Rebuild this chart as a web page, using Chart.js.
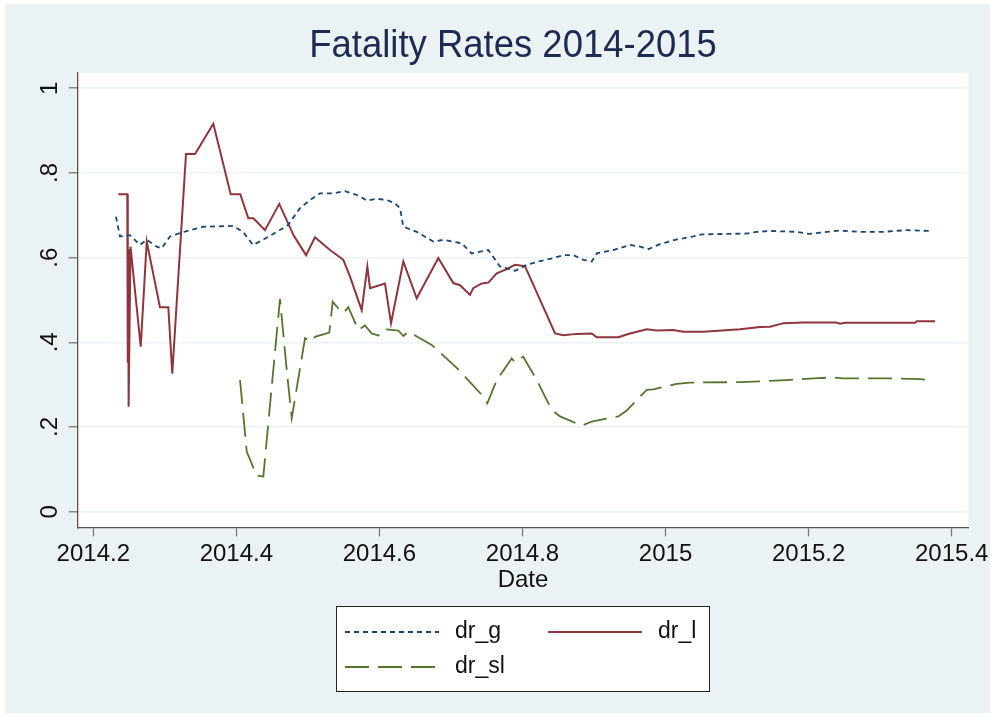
<!DOCTYPE html>
<html lang="en">
  <head>
    <meta charset="UTF-8" />
    <title>Fatality Rates 2014-2015</title>
    <script src="https://cdn.jsdelivr.net/npm/chart.js"></script>
    <style>
      body {
        margin: 0;
        padding: 0;
        background: #fff;
      }
      #chart {
        display: block;
      }
    </style>
  </head>
  <body>
    <canvas id="chart" width="994" height="717"></canvas>

    <script>
      // values
      const gDates = [
        2014.2317, 2014.2373, 2014.2513, 2014.2653, 2014.2747, 2014.2886, 2014.2956, 2014.3072,
        2014.3212, 2014.3352, 2014.3534, 2014.3953, 2014.4093, 2014.4233, 2014.4372, 2014.4568,
        2014.4722, 2014.489, 2014.5029, 2014.5169, 2014.5351, 2014.5519, 2014.5687, 2014.5826,
        2014.5966, 2014.6106, 2014.6218, 2014.6288, 2014.6334, 2014.6521, 2014.6753, 2014.6893,
        2014.715, 2014.729, 2014.7406, 2014.7522, 2014.7686, 2014.7895, 2014.8059, 2014.8245,
        2014.8431, 2014.8571, 2014.8711, 2014.885, 2014.8968, 2014.9038, 2014.927, 2014.9503,
        2014.9643, 2014.9759, 2014.9923, 2015.0156, 2015.0388, 2015.0506, 2015.1135, 2015.1274,
        2015.146, 2015.1834, 2015.1996, 2015.2159, 2015.2439, 2015.2719, 2015.3044, 2015.3371,
        2015.3697
      ];
      const gRates = [
        0.697, 0.65, 0.653, 0.63, 0.642, 0.626, 0.622, 0.65,
        0.658, 0.665, 0.673, 0.675, 0.661, 0.63, 0.642, 0.661,
        0.677, 0.717, 0.736, 0.752, 0.752, 0.757, 0.748, 0.735,
        0.739, 0.736, 0.728, 0.717, 0.673, 0.661, 0.638, 0.642,
        0.634, 0.61, 0.614, 0.618, 0.579, 0.569, 0.583, 0.592,
        0.599, 0.606, 0.606, 0.595, 0.591, 0.61, 0.618, 0.63,
        0.626, 0.62, 0.632, 0.643, 0.65, 0.655, 0.657, 0.661,
        0.663, 0.661, 0.656, 0.659, 0.664, 0.661, 0.661, 0.665,
        0.663
      ];

      const lDates = [
        2014.235, 2014.2475, 2014.2482, 2014.2488, 2014.2494, 2014.252, 2014.2663, 2014.2747,
        2014.2932, 2014.3049, 2014.3104, 2014.3296, 2014.3422, 2014.3678, 2014.3921, 2014.4055,
        2014.4167, 2014.4237, 2014.44, 2014.46, 2014.4796, 2014.4974, 2014.5099, 2014.5309,
        2014.5495, 2014.5589, 2014.5752, 2014.5831, 2014.5868, 2014.6078, 2014.6162, 2014.6334,
        2014.6521, 2014.6823, 2014.7033, 2014.7127, 2014.7266, 2014.7312, 2014.743, 2014.7522,
        2014.764, 2014.7779, 2014.7895, 2014.8035, 2014.8455, 2014.8571, 2014.8758, 2014.8968,
        2014.9038, 2014.934, 2014.9503, 2014.9737, 2014.9876, 2015.0108, 2015.0248, 2015.0528,
        2015.0785, 2015.1041, 2015.1321, 2015.146, 2015.16, 2015.1646, 2015.1926, 2015.2383,
        2015.2439, 2015.2509, 2015.3488, 2015.3511, 2015.3767
      ];
      const lRates = [
        0.75, 0.75, 0.352, 0.62, 0.248, 0.626, 0.39, 0.638,
        0.483, 0.483, 0.326, 0.845, 0.845, 0.916, 0.75, 0.75,
        0.693, 0.693, 0.665, 0.727, 0.654, 0.606, 0.648, 0.618,
        0.595, 0.555, 0.476, 0.579, 0.528, 0.539, 0.445, 0.591,
        0.504, 0.599, 0.54, 0.535, 0.512, 0.528, 0.539, 0.541,
        0.563, 0.573, 0.583, 0.58, 0.421, 0.417, 0.42, 0.421,
        0.412, 0.412, 0.421, 0.431, 0.428, 0.429, 0.425, 0.425,
        0.428, 0.431, 0.436, 0.437, 0.443, 0.445, 0.447, 0.447,
        0.444, 0.446, 0.446, 0.45, 0.45
      ];

      const slDates = [
        2014.4051, 2014.4145, 2014.4284, 2014.4377, 2014.447, 2014.461, 2014.4704, 2014.4774,
        2014.496, 2014.5053, 2014.5099, 2014.5299, 2014.5347, 2014.5425, 2014.5495, 2014.5565,
        2014.5705, 2014.5798, 2014.5892, 2014.5984, 2014.6078, 2014.6264, 2014.6334, 2014.6404,
        2014.6731, 2014.7103, 2014.743, 2014.7508, 2014.764, 2014.7849, 2014.7895, 2014.8011,
        2014.8199, 2014.8409, 2014.8525, 2014.8828, 2014.8968, 2014.9084, 2014.934, 2014.9457,
        2014.9737, 2014.9829, 2015.0156, 2015.0342, 2015.1041, 2015.16, 2015.1694, 2015.2066,
        2015.2323, 2015.2485, 2015.3208, 2015.3557, 2015.3707
      ];
      const slRates = [
        0.311, 0.142, 0.085, 0.083, 0.252, 0.502, 0.335, 0.221,
        0.41, 0.402, 0.413, 0.423, 0.496, 0.48, 0.469, 0.483,
        0.429, 0.44, 0.421, 0.416, 0.431, 0.428, 0.415, 0.425,
        0.394, 0.336, 0.276, 0.256, 0.311, 0.362, 0.353, 0.366,
        0.311, 0.24, 0.225, 0.203, 0.213, 0.217, 0.225, 0.239,
        0.288, 0.289, 0.302, 0.305, 0.306, 0.31, 0.311, 0.315,
        0.317, 0.315, 0.315, 0.313, 0.311
      ];

      const seriesNames = ["dr_g", "dr_l", "dr_sl"];
      const xTicks = [2014.2, 2014.4, 2014.6, 2014.8, 2015, 2015.2, 2015.4];
      const xTickLabels = ["2014.2", "2014.4", "2014.6", "2014.8", "2015", "2015.2", "2015.4"];
      const yTicks = [0, 0.2, 0.4, 0.6, 0.8, 1];
      const yTickLabels = ["0", ".2", ".4", ".6", ".8", "1"];

      const FONT = "'Liberation Sans', Arial, sans-serif";
      const BG = "#eaf2f3";
      const colors = ["#1a476f", "#90353b", "#55752f"];
      const dashes = [[5, 4], [], [24, 9]];

      function toPoints(xs, ys) {
        return xs.map((x, i) => ({ x: x, y: ys[i] }));
      }

      const backgroundPlugin = {
        id: "stataBackground",
        beforeDraw(chart) {
          const { ctx, chartArea } = chart;
          ctx.save();
          ctx.fillStyle = "#fff";
          ctx.fillRect(0, 0, chart.width, chart.height);
          ctx.fillStyle = BG;
          ctx.fillRect(5, 4, 985, 709);
          ctx.fillStyle = "#fff";
          ctx.fillRect(
            chartArea.left,
            chartArea.top,
            chartArea.right - chartArea.left,
            chartArea.bottom - chartArea.top
          );
          ctx.restore();
        },
        afterDraw(chart) {
          const ctx = chart.ctx;
          ctx.save();
          // title, slightly condensed like the original
          ctx.fillStyle = "#1e2a52";
          ctx.font = "38px " + FONT;
          ctx.textAlign = "center";
          ctx.textBaseline = "middle";
          ctx.translate(513, 47);
          ctx.scale(0.96, 1);
          ctx.fillText("Fatality Rates 2014-2015", 0, 0);
          ctx.setTransform(1, 0, 0, 1, 0, 0);

          // legend box
          ctx.fillStyle = "#fff";
          ctx.fillRect(336, 606, 374, 86);
          ctx.strokeStyle = "#222";
          ctx.lineWidth = 1;
          ctx.strokeRect(336.5, 606.5, 373, 85);

          const items = [
            { x: 345, y: 632 },
            { x: 548, y: 632 },
            { x: 345, y: 667 },
          ];
          ctx.font = "23px " + FONT;
          ctx.textAlign = "left";
          items.forEach((it, i) => {
            ctx.strokeStyle = colors[i];
            ctx.lineWidth = 2;
            ctx.setLineDash(dashes[i]);
            ctx.beginPath();
            ctx.moveTo(it.x, it.y);
            ctx.lineTo(it.x + 94, it.y);
            ctx.stroke();
            ctx.setLineDash([]);
            ctx.fillStyle = "#111";
            ctx.fillText(seriesNames[i], it.x + 110, it.y);
          });
          ctx.restore();
        },
      };

      const ctx = document.getElementById("chart").getContext("2d");
      new Chart(ctx, {
        type: "line",
        data: {
          datasets: [
            {
              label: seriesNames[0],
              data: toPoints(gDates, gRates),
              borderColor: colors[0],
              borderDash: dashes[0],
              borderWidth: 1.8,
            },
            {
              label: seriesNames[1],
              data: toPoints(lDates, lRates),
              borderColor: colors[1],
              borderDash: dashes[1],
              borderWidth: 2,
            },
            {
              label: seriesNames[2],
              data: toPoints(slDates, slRates),
              borderColor: colors[2],
              borderDash: dashes[2],
              borderWidth: 1.8,
            },
          ],
        },
        options: {
          responsive: false,
          animation: false,
          devicePixelRatio: 1,
          elements: {
            point: { radius: 0 },
            line: { tension: 0, fill: false },
          },
          layout: {
            padding: { left: 17.7, top: 73, right: 25.7, bottom: 122.7 },
          },
          plugins: {
            legend: { display: false },
            title: { display: false },
            tooltip: { enabled: false },
          },
          scales: {
            x: {
              type: "linear",
              min: 2014.1782,
              max: 2015.4232,
              afterBuildTicks: (scale) => {
                scale.ticks = xTicks.map((v) => ({ value: v }));
              },
              afterFit: (scale) => {
                scale.height = 67;
              },
              grid: {
                drawOnChartArea: false,
                drawTicks: true,
                tickLength: 9,
                tickColor: "#777",
                tickWidth: 1.3,
              },
              border: { display: true, color: "#555", width: 1.3 },
              ticks: {
                padding: 4,
                color: "#111",
                font: { family: FONT, size: 24 },
                maxRotation: 0,
                callback: (v) => xTickLabels[xTicks.indexOf(v)],
              },
              title: {
                display: true,
                text: "Date",
                color: "#111",
                font: { family: FONT, size: 24 },
                padding: 0,
              },
            },
            y: {
              type: "linear",
              min: -0.0368,
              max: 1.0361,
              afterBuildTicks: (scale) => {
                scale.ticks = yTicks.map((v) => ({ value: v }));
              },
              afterFit: (scale) => {
                scale.width = 60;
              },
              grid: {
                color: BG,
                lineWidth: 1.6,
                tickLength: 9,
                tickColor: "#777",
                tickWidth: 1.3,
              },
              border: { display: true, color: "#555", width: 1.3 },
              ticks: {
                padding: 8,
                color: "#111",
                font: { family: FONT, size: 24 },
                minRotation: 90,
                maxRotation: 90,
                crossAlign: "center",
                callback: (v) => yTickLabels[yTicks.indexOf(v)],
              },
            },
          },
        },
        plugins: [backgroundPlugin],
      });
    </script>
  </body>
</html>
